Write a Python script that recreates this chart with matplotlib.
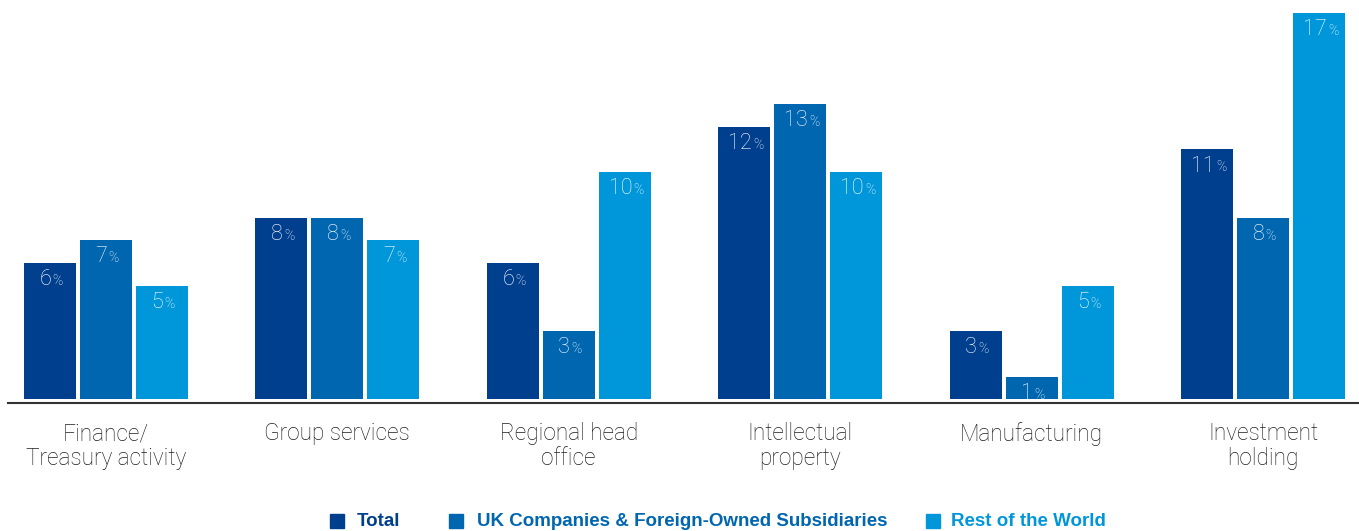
import matplotlib
matplotlib.use("Agg")
import matplotlib.pyplot as plt
import numpy as np
from matplotlib.patches import Rectangle

categories = ["Finance/\nTreasury activity", "Group services", "Regional head\noffice",
              "Intellectual\nproperty", "Manufacturing", "Investment\nholding"]
series_names = ["Total", "UK Companies & Foreign-Owned Subsidiaries", "Rest of the World"]
total = [6, 8, 6, 12, 3, 11]
uk_companies = [7, 8, 3, 13, 1, 8]
rest_of_world = [5, 7, 10, 10, 5, 17]

colors = ["#003F8E", "#0066B0", "#0097DA"]
text_font = ["Roboto", "DejaVu Sans"]

fig = plt.figure(figsize=(13.59, 5.31), dpi=100)
W, H = 1359, 531
ax = fig.add_axes([8 / W, (H - 403) / H, 1 - 8 / W, 403 / H])

x = np.arange(len(categories))
width = 0.2246
step = 0.242
for i, (vals, col) in enumerate(zip([total, uk_companies, rest_of_world], colors)):
    bars = ax.bar(x + (i - 1) * step, vals, width=width, color=col)
    for b, v in zip(bars, vals):
        cx = b.get_x() + b.get_width() / 2
        shift = (len(str(v)) - 1) * 4.5
        ax.annotate(str(v), (cx, v), xytext=(shift + 1, -12.0), textcoords="offset points",
                    ha="right", va="center", color="white", fontsize=15.5,
                    family=text_font, fontweight="light")
        ax.annotate("%", (cx, v), xytext=(shift + 2.0, -13.0), textcoords="offset points",
                    ha="left", va="center", color="white", fontsize=10,
                    family=text_font, fontweight="light")

ax.set_xlim(-0.423, 5.415)
ax.set_ylim(-0.16, 17.57)
for s in ["top", "right", "left"]:
    ax.spines[s].set_visible(False)
ax.spines["bottom"].set_color("#333333")
ax.spines["bottom"].set_linewidth(1.5)
ax.set_yticks([])
ax.set_xticks(x)
ax.set_xticklabels(categories, fontsize=16.3, color="#1e1e1e", family=text_font,
                   fontweight="light", linespacing=1.1)
ax.tick_params(axis="x", length=0, pad=14)

# legend: coloured squares with matching bold text
legend_items = [(330, 357), (449, 477), (926, 951)]
for (sq_x, tx_x), name, col in zip(legend_items, series_names, colors):
    fig.patches.append(Rectangle((sq_x / W, (H - 528) / H), 14 / W, 14 / H,
                                 transform=fig.transFigure, color=col))
    fig.text(tx_x / W, (H - 521) / H, name, color=col, fontsize=13.5, fontweight="bold",
             family=["Liberation Sans Narrow", "Liberation Sans", "DejaVu Sans"],
             va="center", ha="left")

fig.savefig("out.png", dpi=100)
